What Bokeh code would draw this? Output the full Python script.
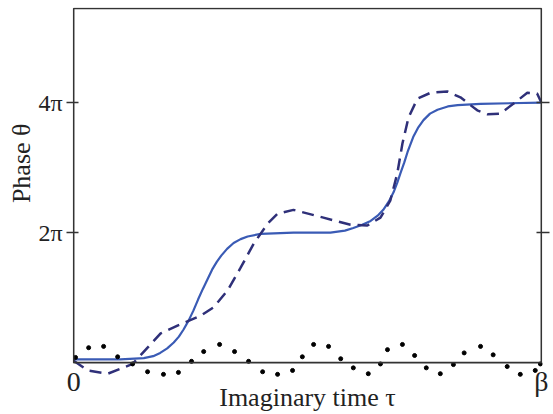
from bokeh.plotting import figure
from bokeh.models import BoxAnnotation, Range1d, LinearAxis, FixedTicker, Title
from bokeh.embed import file_html
from bokeh.resources import INLINE

# ---- data (x in units of beta, theta in units of pi) ----
t_solid = [0.0, 0.10, 0.150, 0.170, 0.185, 0.200, 0.214, 0.225, 0.235, 0.246, 0.256,
           0.266, 0.276, 0.286, 0.296, 0.306, 0.316, 0.328, 0.342, 0.357, 0.372, 0.400,
           0.470, 0.549, 0.580, 0.598, 0.617, 0.635, 0.650, 0.662, 0.674, 0.684, 0.692,
           0.699, 0.707, 0.714, 0.726, 0.737, 0.748, 0.762, 0.778, 0.800, 0.821, 0.870, 1.0]
th_solid = [0.05, 0.05, 0.07, 0.10, 0.15, 0.22, 0.31, 0.40, 0.51, 0.65, 0.80,
            0.97, 1.13, 1.28, 1.43, 1.55, 1.65, 1.75, 1.84, 1.90, 1.94, 1.98,
            2.0, 2.0, 2.03, 2.07, 2.12, 2.18, 2.26, 2.35, 2.48, 2.62, 2.77,
            2.92, 3.08, 3.24, 3.47, 3.62, 3.73, 3.83, 3.89, 3.94, 3.96, 3.98, 4.0]

t_dash = [0.0, 0.030, 0.073, 0.126, 0.158, 0.186, 0.222, 0.271, 0.299, 0.329, 0.357,
          0.385, 0.415, 0.436, 0.470, 0.534, 0.592, 0.628, 0.656, 0.677, 0.692, 0.703,
          0.716, 0.735, 0.763, 0.799, 0.827, 0.863, 0.885, 0.912, 0.940, 0.970, 0.991, 1.0]
th_dash = [0.03, -0.12, -0.17, -0.02, 0.23, 0.45, 0.57, 0.72, 0.85, 1.11, 1.46,
           1.83, 2.14, 2.29, 2.35, 2.23, 2.12, 2.11, 2.23, 2.49, 2.91, 3.37,
           3.77, 4.06, 4.15, 4.17, 4.08, 3.88, 3.82, 3.83, 3.98, 4.15, 4.14, 4.0]

t_dots = [0.004, 0.032, 0.064, 0.094, 0.126, 0.158, 0.192, 0.224, 0.252, 0.278, 0.312,
          0.344, 0.374, 0.404, 0.436, 0.468, 0.489, 0.513, 0.545, 0.571, 0.598, 0.630,
          0.656, 0.671, 0.703, 0.729, 0.754, 0.784, 0.812, 0.835, 0.870, 0.897, 0.927,
          0.955, 0.987, 0.998]
th_dots = [0.08, 0.23, 0.25, 0.09, -0.02, -0.14, -0.18, -0.15, 0.02, 0.17, 0.28,
           0.17, 0.02, -0.14, -0.18, -0.12, 0.09, 0.28, 0.25, 0.06, -0.08, -0.17,
           -0.02, 0.20, 0.28, 0.11, -0.08, -0.17, -0.03, 0.15, 0.25, 0.12, -0.06,
           -0.18, -0.12, -0.02]

x_ticks = [0, 1]
x_tick_labels = ["0", "β"]
y_ticks = [2, 4]
y_tick_labels = ["2π", "4π"]
y_top = 5.446          # top edge of the drawn box (in units of pi)

FONT = "Liberation Serif"
AX = "#333333"
TXT = "#222222"

p = figure(width=553, height=414, output_backend="svg", toolbar_location=None,
           x_range=Range1d(-0.0025, 1.0025), y_range=Range1d(-0.29, 5.462),
           min_border_left=72, min_border_right=11, min_border_top=7, min_border_bottom=33)
p.grid.visible = False
p.outline_line_color = None
p.background_fill_color = "white"
p.border_fill_color = "white"

# frame box (top, left, right, and the theta=0 line)
p.add_layout(BoxAnnotation(left=x_ticks[0], right=x_ticks[-1], bottom=0, top=y_top,
                           fill_alpha=0, line_color=AX, line_alpha=1, line_width=1.6))

# x axis
xa = p.xaxis[0]
xa.ticker = FixedTicker(ticks=x_ticks)
xa.major_label_overrides = dict(zip(x_ticks, x_tick_labels))
xa.axis_line_color = None
xa.major_tick_line_color = None
xa.minor_tick_line_color = None
xa.major_tick_in = 0
xa.major_tick_out = 0
xa.major_label_standoff = -16
xa.major_label_text_font = FONT
xa.major_label_text_font_size = "28px"
xa.major_label_text_color = TXT
xa.axis_label = "Imaginary time τ"
xa.axis_label_standoff = -17
xa.axis_label_text_font = FONT
xa.axis_label_text_font_size = "26px"
xa.axis_label_text_font_style = "normal"
xa.axis_label_text_color = TXT

# left y axis
ya = p.yaxis[0]
ya.ticker = FixedTicker(ticks=y_ticks)
ya.major_label_overrides = dict(zip(y_ticks, y_tick_labels))
ya.axis_line_color = None
ya.major_tick_line_color = AX
ya.major_tick_line_width = 1.5
ya.major_tick_in = 6
ya.major_tick_out = 6
ya.minor_tick_line_color = None
ya.major_label_standoff = 4
ya.major_label_text_font = FONT
ya.major_label_text_font_size = "24px"
ya.major_label_text_color = TXT

# right axis: ticks only
ra = LinearAxis(ticker=FixedTicker(ticks=y_ticks), axis_line_color=None,
                major_tick_line_color=AX, major_tick_line_width=1.5,
                major_tick_in=6, major_tick_out=7, minor_tick_line_color=None,
                major_label_overrides={2: "", 4: ""}, major_label_standoff=0)
p.add_layout(ra, "right")

# y label as a left title, placed from the top of the frame
p.add_layout(Title(text="Phase θ", align="right", offset=116, text_font=FONT,
                   text_font_size="26px", text_font_style="normal", text_color=TXT,
                   standoff=0), "left")

p.line(t_solid, th_solid, line_color="#3a5bb5", line_width=2.2)
p.line(t_dash, th_dash, line_color="#2f3079", line_width=2.5, line_dash="12 7")
p.scatter(t_dots, th_dots, size=4, color="black")

open("out.html", "w").write(file_html(p, INLINE))
